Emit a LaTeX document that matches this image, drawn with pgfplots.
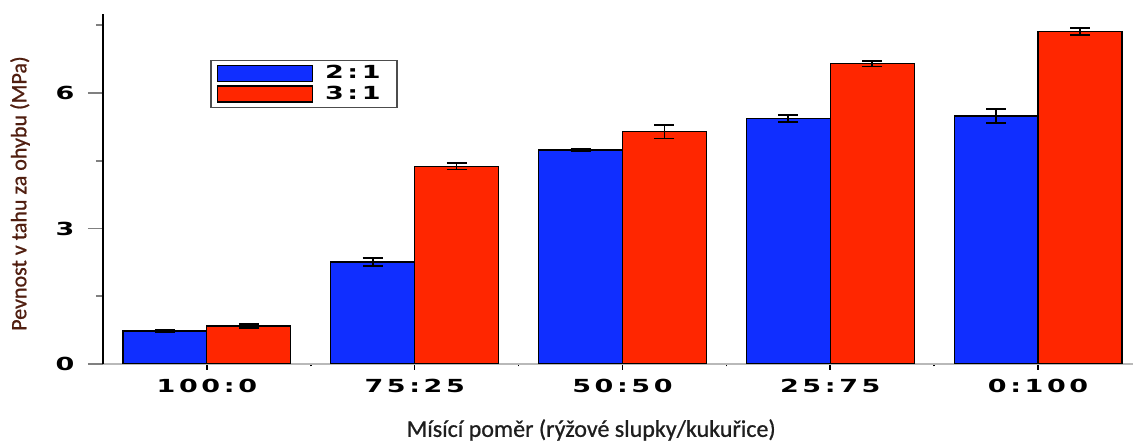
\documentclass[border=0pt]{standalone}
\usepackage{fontspec}
\usepackage{pgfplots}
\pgfplotsset{compat=1.18}
\setmainfont{Carlito}
\newfontfamily\labfont{Carlito}[FakeBold=0.8]
\newfontfamily\tickfont{DejaVu Sans}[FakeStretch=1.5, LetterSpace=20]
\definecolor{barblue}{RGB}{16,46,255}
\definecolor{barred}{RGB}{255,38,0}
\definecolor{labbrown}{RGB}{80,30,15}
\definecolor{labgray}{RGB}{30,30,30}
\begin{document}
\begin{tikzpicture}
\begin{axis}[
  scale only axis, width=515pt, height=175pt,
  xmin=-0.5, xmax=4.457, ymin=0, ymax=7.75,
  ybar=0pt, bar width=0.404,
  axis x line*=bottom, axis y line*=left,
  x axis line style={gray!55, line width=0.8pt},
  y axis line style={black, line width=1.1pt},
  xtick={0,1,2,3,4}, xticklabels={100:0,75:25,50:50,25:75,0:100},
  minor xtick={0.5,1.5,2.5,3.5},
  ytick={0,3,6}, minor ytick={1.5,4.5,7.5},
  tick align=outside,
  xtick style={/pgfplots/major tick length=3pt, /pgfplots/minor tick length=1.2pt, black, line width=0.8pt},
  ytick style={/pgfplots/major tick length=7.5pt, /pgfplots/minor tick length=3.5pt, gray, line width=0.8pt},
  /pgf/number format/assume math mode=true,
  ticklabel style={font=\tickfont\bfseries\fontsize{9}{10}\selectfont, text=black},
  yticklabel style={xshift=-6.5pt},
  xlabel={Mísící poměr (rýžové slupky/kukuřice)},
  ylabel={Pevnost v tahu za ohybu (MPa)},
  xlabel style={at={(rel axis cs:0.474,0)}, anchor=center, yshift=-33pt, font=\labfont\fontsize{12}{14}\selectfont, text=labgray},
  ylabel style={at={(rel axis cs:0,0.487)}, anchor=center, yshift=41.5pt, font=\labfont\fontsize{11}{13}\selectfont, text=labbrown},
  error bars/y dir=both, error bars/y explicit,
  error bars/error bar style={black, line width=0.8pt},
  error bars/error mark options={rotate=90, mark size=5pt, black, line width=0.8pt},
  legend image code/.code={\draw[#1, line width=0.6pt] (0pt,-4pt) rectangle (47.5pt,4pt);},
  legend style={at={(rel axis cs:0.104,0.869)}, anchor=north west, draw=gray!60!black, line width=0.7pt,
    font=\tickfont\bfseries\fontsize{9}{10}\selectfont, inner xsep=3pt, inner ysep=1.5pt, row sep=0pt,
    nodes={inner xsep=6pt, inner ysep=1pt}},
  legend cell align=left,
]
\addplot[fill=barblue, draw=black, line width=0.6pt] coordinates {
  (0,0.73) +- (0,0.03)
  (1,2.26) +- (0,0.09)
  (2,4.74) +- (0,0.02)
  (3,5.44) +- (0,0.08)
  (4,5.49) +- (0,0.15)
};
\addplot[fill=barred, draw=black, line width=0.6pt] coordinates {
  (0,0.84) +- (0,0.04)
  (1,4.38) +- (0,0.07)
  (2,5.14) +- (0,0.15)
  (3,6.65) +- (0,0.06)
  (4,7.36) +- (0,0.08)
};
\legend{\makebox[27pt][l]{2:1},\makebox[27pt][l]{3:1}}
\coordinate (o) at (rel axis cs:0,0);
\end{axis}
\pgfresetboundingbox
\path[use as bounding box] (o) ++(-51.5pt,-39pt) rectangle ++(566.5pt,221pt);
\end{tikzpicture}
\end{document}
